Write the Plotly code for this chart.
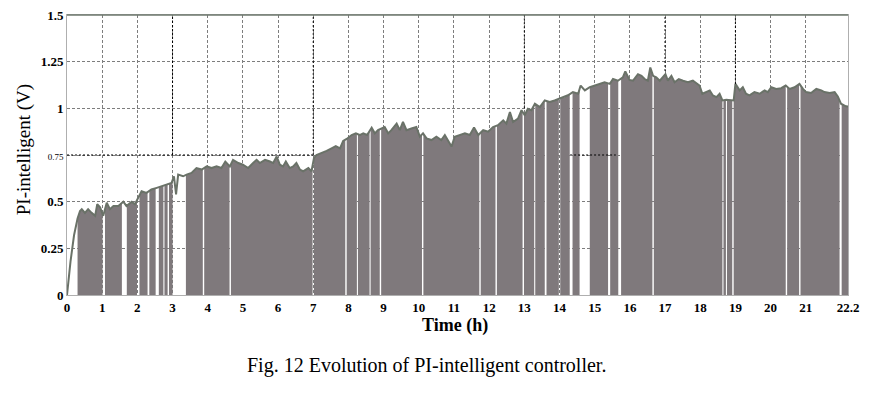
import numpy as np
import plotly.graph_objects as go

# ---- data ----
time_h = [0, 0.1, 0.2, 0.3, 0.37, 0.42, 0.51, 0.6, 0.7, 0.8, 0.86, 0.94, 1.03, 1.13, 1.22, 1.32, 1.46,
          1.6, 1.69, 1.84, 1.93, 2.03, 2.12, 2.26, 2.4, 2.55, 2.69, 2.83, 2.97, 3.04, 3.1, 3.16, 3.3,
          3.4, 3.54, 3.68, 3.83, 3.97, 4.11, 4.25, 4.39, 4.5, 4.63, 4.72, 4.87, 5.0, 5.15, 5.29, 5.39,
          5.48, 5.63, 5.77, 5.86, 5.96, 6.05, 6.14, 6.22, 6.33, 6.43, 6.52, 6.62, 6.71, 6.86, 6.95,
          7.02, 7.09, 7.24, 7.38, 7.52, 7.64, 7.76, 7.85, 7.95, 8.09, 8.21, 8.32, 8.42, 8.53, 8.66,
          8.75, 8.84, 8.94, 9.03, 9.13, 9.22, 9.37, 9.46, 9.55, 9.65, 9.79, 9.93, 10.03, 10.12, 10.22,
          10.36, 10.5, 10.64, 10.74, 10.83, 10.93, 11.02, 11.16, 11.31, 11.45, 11.57, 11.69, 11.83,
          11.97, 12.11, 12.25, 12.4, 12.49, 12.59, 12.68, 12.82, 12.92, 13.01, 13.1, 13.2, 13.3,
          13.44, 13.58, 13.72, 13.86, 14.0, 14.15, 14.24, 14.38, 14.53, 14.6, 14.72, 14.86, 15.0,
          15.14, 15.28, 15.43, 15.52, 15.66, 15.8, 15.87, 15.99, 16.09, 16.23, 16.33, 16.42, 16.51,
          16.58, 16.66, 16.75, 16.85, 16.94, 17.01, 17.08, 17.18, 17.27, 17.39, 17.51, 17.65, 17.79,
          17.89, 17.98, 18.06, 18.17, 18.27, 18.36, 18.46, 18.55, 18.63, 18.74, 18.88, 18.95, 19.0,
          19.12, 19.21, 19.3, 19.4, 19.54, 19.69, 19.83, 19.92, 20.02, 20.16, 20.3, 20.43, 20.54,
          20.68, 20.82, 20.92, 21.01, 21.15, 21.3, 21.44, 21.53, 21.68, 21.82, 21.91, 22.0, 22.14, 22.2]
voltage = [0, 0.18, 0.32, 0.41, 0.45, 0.46, 0.44, 0.46, 0.44, 0.424, 0.486, 0.47, 0.424, 0.494, 0.46,
           0.477, 0.477, 0.5, 0.477, 0.5, 0.486, 0.52, 0.556, 0.547, 0.565, 0.574, 0.583, 0.595, 0.6,
           0.636, 0.539, 0.645, 0.636, 0.645, 0.654, 0.68, 0.672, 0.689, 0.68, 0.689, 0.68, 0.715,
           0.689, 0.724, 0.707, 0.698, 0.68, 0.707, 0.724, 0.707, 0.724, 0.715, 0.707, 0.742, 0.698,
           0.689, 0.715, 0.68, 0.689, 0.707, 0.672, 0.663, 0.68, 0.663, 0.733, 0.75, 0.76, 0.772,
           0.786, 0.798, 0.786, 0.825, 0.836, 0.857, 0.866, 0.857, 0.866, 0.857, 0.896, 0.866, 0.883,
           0.892, 0.9, 0.866, 0.883, 0.918, 0.883, 0.927, 0.883, 0.892, 0.9, 0.848, 0.866, 0.839,
           0.83, 0.848, 0.83, 0.857, 0.83, 0.795, 0.848, 0.857, 0.866, 0.857, 0.897, 0.857, 0.883,
           0.875, 0.9, 0.91, 0.936, 0.918, 0.98, 0.927, 0.945, 0.99, 0.963, 0.998, 0.99, 1.025,
           1.007, 1.042, 1.034, 1.042, 1.051, 1.06, 1.07, 1.087, 1.078, 1.122, 1.096, 1.113, 1.122,
           1.131, 1.139, 1.131, 1.157, 1.148, 1.166, 1.198, 1.152, 1.148, 1.183, 1.174, 1.157, 1.148,
           1.219, 1.174, 1.166, 1.148, 1.166, 1.183, 1.148, 1.174, 1.14, 1.157, 1.148, 1.14, 1.148,
           1.134, 1.122, 1.078, 1.087, 1.096, 1.069, 1.06, 1.078, 1.042, 1.046, 1.042, 1.042, 1.131,
           1.096, 1.113, 1.078, 1.069, 1.087, 1.078, 1.096, 1.087, 1.113, 1.104, 1.108, 1.122, 1.104,
           1.113, 1.131, 1.104, 1.087, 1.082, 1.104, 1.096, 1.087, 1.082, 1.087, 1.064, 1.025, 1.011, 1.01]

fill_start = 0.3
t_end = 22.2
gaps = [(1.01, 1.08), (1.56, 1.70), (1.99, 2.06), (2.29, 2.34), (2.52, 2.61), (2.74, 2.77),
        (2.86, 2.9), (3.0, 3.38), (3.86, 3.9), (4.62, 4.66), (6.98, 7.02), (7.91, 7.95),
        (8.24, 8.27), (8.6, 8.63), (8.89, 8.93), (10.09, 10.13), (11.72, 11.76), (12.18, 12.22),
        (12.95, 12.99), (13.28, 13.31), (13.58, 13.63), (13.98, 14.02), (14.29, 14.37),
        (14.57, 14.86), (15.38, 15.44), (15.67, 15.75), (16.64, 16.68), (18.63, 18.66),
        (18.73, 18.76), (18.91, 18.95), (20.43, 20.47), (20.81, 20.85), (21.96, 22.02)]

x_tickvals = list(range(0, 22)) + [22.2]
x_ticktext = [str(v) for v in range(0, 22)] + ["22.2"]
y_tickvals = [0, 0.25, 0.5, 0.75, 1, 1.25, 1.5]
y_ticktext = ["0", "0.25", "0.5", "<span style='font-size:9px;font-weight:normal'>0.75</span>",
              "1", "1.25", "1.5"]

fig = go.Figure()

# ---- filled segments between gaps (one trace per segment) ----
edges = [fill_start] + [e for g in gaps for e in g] + [t_end]
for a, b in zip(edges[0::2], edges[1::2]):
    xs = [a] + [t for t in time_h if a < t < b] + [b]
    ys = np.interp(xs, time_h, voltage)
    fig.add_trace(go.Scatter(x=xs, y=ys, mode="none", fill="tozeroy",
                             fillcolor="rgb(127,121,124)",
                             hoverinfo="skip", showlegend=False))

fig.add_trace(go.Scatter(x=time_h, y=voltage, mode="lines",
                         line=dict(color="rgb(106,114,104)", width=2),
                         showlegend=False))

grid_col = "rgb(125,125,125)"
common = dict(showgrid=True, gridcolor=grid_col, griddash="3px,2px", gridwidth=1,
              zeroline=False, showline=True, linecolor="rgb(175,175,175)", mirror=True,
              ticks="", automargin=False, ticklabeloverflow="allow",
              tickfont=dict(family="Liberation Serif", size=13, color="black", weight="bold"))
fig.update_xaxes(range=[0, 22.2], tickvals=x_tickvals, ticktext=x_ticktext, **common)
fig.update_yaxes(range=[0, 1.5], tickvals=y_tickvals, ticktext=y_ticktext, **common)

# darker dotted grid portions seen in the reference
dk = dict(color="black", width=1, dash="2px,2px")
shapes = [
    dict(type="line", x0=0, x1=7, y0=0.75, y1=0.75, line=dk),
    dict(type="line", x0=3, x1=3, y0=0.75, y1=1.5, line=dk),
    dict(type="line", x0=7, x1=7, y0=0.75, y1=1.5, line=dk),
    dict(type="line", x0=13, x1=13, y0=1.0, y1=1.5, line=dk),
    dict(type="line", x0=17, x1=17, y0=1.2, y1=1.5, line=dk),
    dict(type="line", x0=19, x1=19, y0=1.13, y1=1.5, line=dk),
    dict(type="line", x0=14.3, x1=15.6, y0=0.75, y1=0.75, line=dk),
]
for s in shapes:
    s.update(xref="x", yref="y", layer="above")
fig.update_layout(shapes=shapes)
fig.add_shape(type="line", xref="paper", yref="paper", x0=0, x1=1, y0=1, y1=1,
              line=dict(color="rgb(110,120,110)", width=1.5))

fig.add_annotation(text="PI-intelligent (V)", xref="paper", yref="paper", x=-0.054, y=0.52,
                   xanchor="center", yanchor="middle", textangle=-90, showarrow=False,
                   font=dict(family="Liberation Serif", size=19, color="black"))
fig.add_annotation(text="Time (h)", xref="paper", yref="paper", x=0.497, y=-0.11,
                   xanchor="center", yanchor="middle", showarrow=False,
                   font=dict(family="Liberation Serif", size=18, color="black", weight="bold"))
fig.add_annotation(text="Fig. 12 Evolution of PI-intelligent controller.", xref="paper",
                   yref="paper", x=0.46, y=-0.25, xanchor="center", yanchor="middle",
                   showarrow=False,
                   font=dict(family="Liberation Serif", size=20, color="black"))

fig.update_layout(width=869, height=391, margin=dict(l=59, r=29, t=7, b=104),
                  plot_bgcolor="white", paper_bgcolor="white")

fig.write_html("out.html")
